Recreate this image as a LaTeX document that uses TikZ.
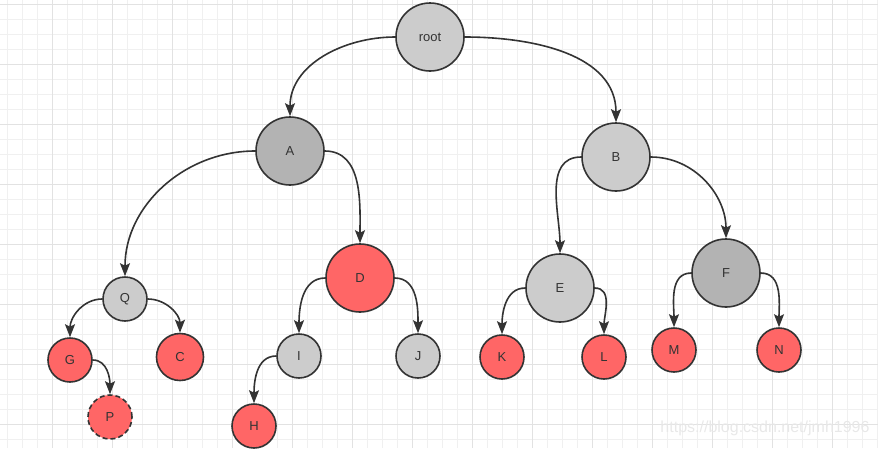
\documentclass[tikz,border=0pt]{standalone}
\usepackage{fontspec}
\setmainfont{Liberation Sans}
\usepackage{xcolor}
\usetikzlibrary{arrows.meta}

\definecolor{lightnode}{HTML}{CCCCCC}
\definecolor{darknode}{HTML}{B3B3B3}
\definecolor{rednode}{HTML}{FF6666}
\definecolor{edgecol}{HTML}{333333}
\definecolor{minorgrid}{HTML}{F0F0F0}
\definecolor{majorgrid}{HTML}{E2E2E2}

\tikzset{
  tnode/.style={circle, draw=edgecol, line width=1.6pt, inner sep=0pt,
    text=edgecol, font=\fontsize{13}{15}\selectfont},
  big/.style={tnode, minimum size=68pt},
  small/.style={tnode, minimum size=44pt},
  light/.style={fill=lightnode},
  dark/.style={fill=darknode},
  red/.style={fill=rednode},
  tedge/.style={draw=edgecol, line width=1.6pt,
    -{Stealth[length=13pt,width=10pt,inset=2.5pt]}},
}

\begin{document}
\begin{tikzpicture}[x=1pt,y=-1pt]
\useasboundingbox (0,0) rectangle (878,448);
%% grid
\foreach \gx in {7,22,...,877} \draw[minorgrid, line width=1pt] (\gx,0) -- (\gx,448);
\foreach \gy in {4,19,...,447} \draw[minorgrid, line width=1pt] (0,\gy) -- (878,\gy);
\foreach \gx in {52,112,...,877} \draw[majorgrid, line width=1pt] (\gx,0) -- (\gx,448);
\foreach \gy in {4,64,...,447} \draw[majorgrid, line width=1pt] (0,\gy) -- (878,\gy);

%% nodes
\node[big, light] (root) at (430,37) {root};
\node[big, dark] (A) at (290,151) {A};
\node[big, light] (B) at (616,157) {B};
\node[small, light] (Q) at (125,299) {Q};
\node[big, red] (D) at (360,278) {D};
\node[big, light] (E) at (560,288) {E};
\node[big, dark] (F) at (726,273) {F};
\node[small, red] (G) at (70,360) {G};
\node[small, red, minimum size=47pt] (C) at (180,357) {C};
\node[small, red, dashed, dash pattern=on 5pt off 3pt] (P) at (110,417) {P};
\node[small, light] (I) at (299,356) {I};
\node[small, light] (J) at (418,356) {J};
\node[small, red] (H) at (254,426) {H};
\node[small, red] (K) at (502,357) {K};
\node[small, red] (L) at (604,357) {L};
\node[small, red] (M) at (674,350) {M};
\node[small, red] (N) at (779,350) {N};

%% edges
\draw[tedge] (root.west) to[out=180, in=90] (A.north);
\draw[tedge] (root.east) to[out=0, in=90] (B.north);
\draw[tedge] (A.west) to[out=180, in=90] (Q.north);
\draw[tedge] (A.east) to[out=0, in=90] (D.north);
\draw[tedge] (B.west) to[out=180, in=90] (E.north);
\draw[tedge] (B.east) to[out=0, in=90] (F.north);
\draw[tedge] (Q.west) to[out=180, in=90] (G.north);
\draw[tedge] (Q.east) to[out=0, in=90] (C.north);
\draw[tedge] (G.east) to[out=0, in=90] (P.north);
\draw[tedge] (D.west) to[out=180, in=90] (I.north);
\draw[tedge] (D.east) to[out=0, in=90] (J.north);
\draw[tedge] (I.west) to[out=180, in=90] (H.north);
\draw[tedge] (E.west) to[out=180, in=90] (K.north);
\draw[tedge] (E.east) to[out=0, in=90] (L.north);
\draw[tedge] (F.west) to[out=180, in=90] (M.north);
\draw[tedge] (F.east) to[out=0, in=90] (N.north);

% watermark
\node[text=black!9, font=\fontsize{16}{18}\selectfont] (mark) at (765,428) {https://blog.csdn.net/jmh1996};
\end{tikzpicture}
\end{document}
